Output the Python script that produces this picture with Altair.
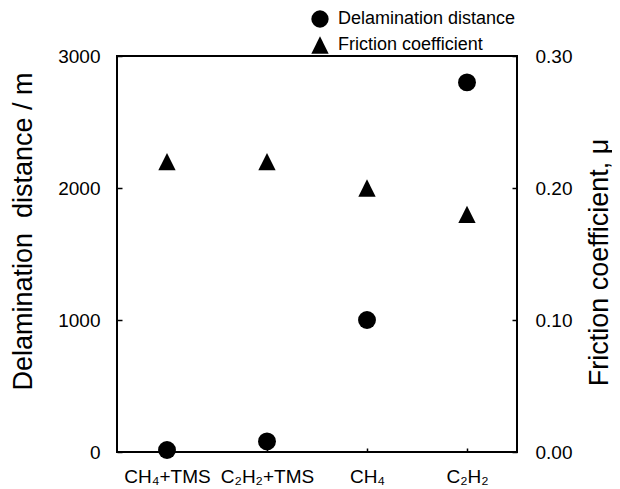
import altair as alt
import pandas as pd

categories = ["CH₄+TMS", "C₂H₂+TMS", "CH₄", "C₂H₂"]
delamination = [15, 80, 1000, 2800]
friction = [0.22, 0.22, 0.20, 0.18]
series_names = ["Delamination distance", "Friction coefficient"]
left_ticks = [0, 1000, 2000, 3000]
right_ticks = [0.0, 0.1, 0.2, 0.3]

df_d = pd.DataFrame({"category": categories, "value": delamination, "series": series_names[0]})
df_f = pd.DataFrame({"category": categories, "value": friction, "series": series_names[1]})

FONT = "Liberation Sans"
TRI = "M0,-1L-1,1L1,1Z"

x_enc = alt.X(
    "category:N",
    sort=categories,
    scale=alt.Scale(type="point", padding=0.5),
    axis=alt.Axis(
        title=None, labelAngle=0, labelFontSize=19, labelColor="black",
        offset=-4, tickSize=4, domain=False, labelPadding=15,
        tickColor="black", tickWidth=1.5, labelFont=FONT,
    ),
)

shape_enc = alt.Shape(
    "series:N",
    scale=alt.Scale(domain=series_names, range=["circle", TRI]),
    legend=alt.Legend(
        title=None, orient="none", legendX=194, legendY=-46,
        labelFontSize=18, labelColor="black", labelFont=FONT, labelLimit=400,
        symbolFillColor="black", symbolStrokeColor="black", symbolStrokeWidth=0,
        symbolSize=300, symbolOpacity=1, rowPadding=8, labelOffset=9, padding=0,
    ),
)

pts_d = alt.Chart(df_d).mark_point(filled=True, color="black", opacity=1, size=320).encode(
    x=x_enc,
    y=alt.Y(
        "value:Q",
        scale=alt.Scale(domain=[0, 3000], nice=False, zero=True),
        axis=alt.Axis(
            title="Delamination\u00a0 distance / m", orient="left", values=left_ticks, format="d",
            offset=-5, tickSize=5, domain=False, labelPadding=17, grid=False,
            labelFontSize=19, labelColor="black", labelFont=FONT,
            titleFontSize=27, titleFontWeight="normal", titleColor="black", titleFont=FONT,
            titleAngle=270, titleBaseline="middle", titleX=-99, titleY=175,
            tickColor="black", tickWidth=1.5,
        ),
    ),
    shape=shape_enc,
)

pts_f = alt.Chart(df_f).mark_point(filled=True, color="black", opacity=1, size=300).encode(
    x=x_enc,
    y=alt.Y(
        "value:Q",
        scale=alt.Scale(domain=[0, 0.3], nice=False, zero=True),
        axis=alt.Axis(
            title="Friction coefficient, μ", orient="right", values=right_ticks, format=".2f",
            offset=-5, tickSize=5, domain=False, labelPadding=18, grid=False,
            labelFontSize=19, labelColor="black", labelFont=FONT,
            titleFontSize=27, titleFontWeight="normal", titleColor="black", titleFont=FONT,
            titleAngle=270, titleBaseline="middle", titleX=87, titleY=206,
            tickColor="black", tickWidth=1.5,
        ),
    ),
    shape=shape_enc,
)

chart = (
    alt.layer(pts_d, pts_f)
    .resolve_scale(y="independent")
    .properties(
        width=400, height=396,
        autosize=alt.AutoSizeParams(type="none"),
        padding={"left": 109, "top": 48, "right": 95, "bottom": 33},
    )
    .configure(font=FONT, background="white",
               view=alt.ViewConfig(stroke="black", strokeWidth=2))
)

chart.save("out.html", embed_options={"renderer": "svg", "actions": False})
